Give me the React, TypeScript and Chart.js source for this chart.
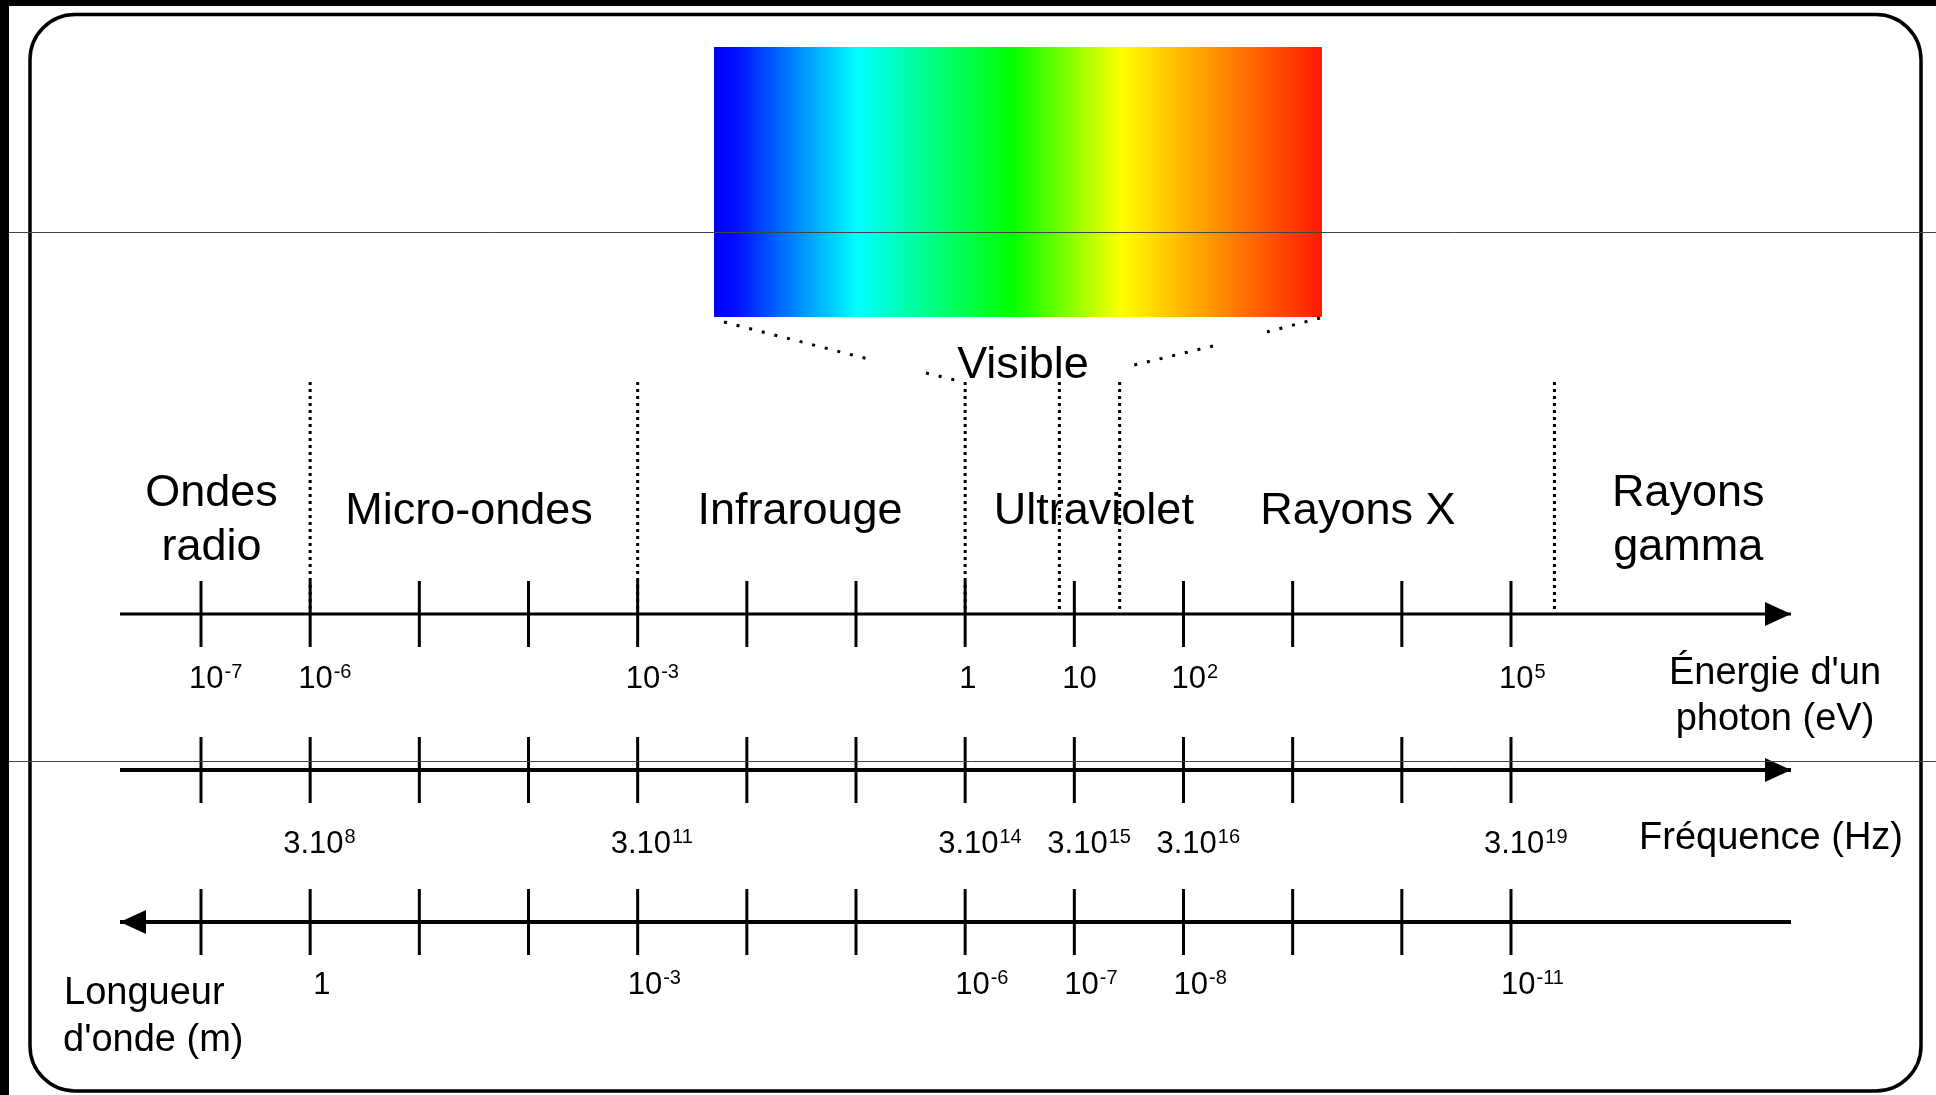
import React, { useEffect, useRef } from 'react';
import { Chart, registerables } from 'chart.js';

Chart.register(...registerables);

// ---- Data ----
// Decade ticks of the shared logarithmic axis, expressed as powers of ten of the photon energy (eV)
const TICK_EXPONENTS = [-7, -6, -5, -4, -3, -2, -1, 0, 1, 2, 3, 4, 5];
// Extent of the drawn axes (powers of ten of eV)
const AXIS_MIN_EXP = -7.742;
const AXIS_MAX_EXP = 7.565;

// Photon energy labels (eV)
const ENERGY_LABEL_EXP = [-7, -6, -3, 0, 1, 2, 5];
const ENERGY_LABEL_BASE = ['10', '10', '10', '1', '10', '10', '10'];
const ENERGY_LABEL_SUP = ['-7', '-6', '-3', '', '', '2', '5'];

// Frequency labels (Hz)
const FREQ_LABEL_EXP = [-6, -3, 0, 1, 2, 5];
const FREQ_LABEL_BASE = ['3.10', '3.10', '3.10', '3.10', '3.10', '3.10'];
const FREQ_LABEL_SUP = ['8', '11', '14', '15', '16', '19'];

// Wavelength labels (m)
const WAVE_LABEL_EXP = [-6, -3, 0, 1, 2, 5];
const WAVE_LABEL_BASE = ['1', '10', '10', '10', '10', '10'];
const WAVE_LABEL_SUP = ['', '-3', '-6', '-7', '-8', '-11'];

// Region boundaries (eV) and region names
const REGION_BOUNDARIES_EV = [1e-6, 1e-3, 1, 7.3, 26, 2.5e5];
const REGION_NAMES = [['Ondes', 'radio'], ['Micro-ondes'], ['Infrarouge'], ['Ultraviolet'], ['Rayons X'], ['Rayons', 'gamma']];
const REGION_LABEL_EV = [1.25e-7, 2.85e-5, 3.07e-2, 15.1, 3.96e3, 4.2e6];

// Visible spectrum colours (blue -> red)
const SPECTRUM_STOPS = [0, 0.03, 0.235, 0.49, 0.67, 0.85, 1];
const SPECTRUM_COLORS = ['#0000ff', '#0008ff', '#00ffff', '#00ff00', '#ffff00', '#ff8000', '#ff1800'];

// ---- Layout ----
const W = 1936;
const H = 1095;
const ROW_ENERGY = 614;
const ROW_FREQ = 770;
const ROW_WAVE = 922;
const FONT = '"Liberation Sans", Arial, sans-serif';

export default function App() {
  const ref = useRef<HTMLCanvasElement>(null);

  useEffect(() => {
    const canvas = ref.current;
    if (!canvas) return;
    const p10 = (e: number) => Math.pow(10, e);
    const xMin = p10(AXIS_MIN_EXP);
    const xMax = p10(AXIS_MAX_EXP);
    const tickValues = TICK_EXPONENTS.map(p10);

    const axisLine = (y: number, width: number) => ({
      type: 'line' as const,
      data: [{ x: xMin, y }, { x: xMax, y }],
      borderColor: '#000',
      borderWidth: width,
      pointRadius: 0,
      borderCapStyle: 'butt' as const,
      clip: false as any,
      tension: 0,
    });
    const tickSet = (y: number) => ({
      type: 'scatter' as const,
      data: tickValues.map((v) => ({ x: v, y })),
      pointStyle: 'line' as const,
      pointRadius: 33,
      pointHoverRadius: 33,
      pointBorderWidth: 3,
      pointHoverBorderWidth: 3,
      pointBorderColor: '#000',
      pointBackgroundColor: '#000',
      pointRotation: 90,
      showLine: false,
      clip: false as any,
    });
    const boundarySets = REGION_BOUNDARIES_EV.map((v) => ({
      type: 'line' as const,
      data: [{ x: v, y: 382 }, { x: v, y: 610 }],
      borderColor: '#000',
      borderWidth: 3,
      borderDash: [3, 4],
      borderCapStyle: 'butt' as const,
      pointRadius: 0,
      clip: false as any,
      tension: 0,
    }));

    const deco = {
      id: 'deco',
      beforeDatasetsDraw(chart: any) {
        const ctx: CanvasRenderingContext2D = chart.ctx;
        const xs = chart.scales.x;
        ctx.save();
        ctx.fillStyle = '#fff';
        ctx.fillRect(0, 0, W, H);
        // outer black edges
        ctx.fillStyle = '#000';
        ctx.fillRect(0, 0, 9, H);
        ctx.fillRect(0, 0, W, 6);
        // rounded frame
        const fx = 30, fy = 14.5, fw = 1891, fh = 1076.5, r = 45;
        ctx.lineWidth = 3.5;
        ctx.strokeStyle = '#000';
        ctx.beginPath();
        ctx.moveTo(fx + r, fy);
        ctx.lineTo(fx + fw - r, fy);
        ctx.arcTo(fx + fw, fy, fx + fw, fy + r, r);
        ctx.lineTo(fx + fw, fy + fh - r);
        ctx.arcTo(fx + fw, fy + fh, fx + fw - r, fy + fh, r);
        ctx.lineTo(fx + r, fy + fh);
        ctx.arcTo(fx, fy + fh, fx, fy + fh - r, r);
        ctx.lineTo(fx, fy + r);
        ctx.arcTo(fx, fy, fx + r, fy, r);
        ctx.closePath();
        ctx.stroke();

        // visible spectrum
        const gx0 = 714, gx1 = 1322, gy0 = 47, gy1 = 317;
        const g = ctx.createLinearGradient(gx0, 0, gx1, 0);
        SPECTRUM_STOPS.forEach((s, i) => g.addColorStop(s, SPECTRUM_COLORS[i]));
        ctx.fillStyle = g;
        ctx.fillRect(gx0, gy0, gx1 - gx0, gy1 - gy0);

        // dotted callout lines
        ctx.strokeStyle = '#000';
        ctx.lineWidth = 3;
        ctx.setLineDash([3, 10]);
        const seg = (a: number, b: number, c: number, d: number) => {
          ctx.beginPath();
          ctx.moveTo(a, b);
          ctx.lineTo(c, d);
          ctx.stroke();
        };
        seg(724, 322, 872, 360);
        seg(926, 373, 955, 380);
        seg(1320, 318, 1267, 332);
        seg(1213, 346, 1126, 367);
        ctx.setLineDash([]);

        const text = (s: string, x: number, y: number, size: number, align: CanvasTextAlign = 'center') => {
          ctx.font = `${size}px ${FONT}`;
          ctx.textAlign = align;
          ctx.textBaseline = 'alphabetic';
          ctx.fillStyle = '#000';
          ctx.fillText(s, x, y);
        };

        text('Visible', 1023, 378, 45);

        // region names
        REGION_NAMES.forEach((lines, i) => {
          const x = xs.getPixelForValue(REGION_LABEL_EV[i]);
          if (lines.length === 1) {
            text(lines[0], x, 524, 45);
          } else {
            text(lines[0], x, 506, 45);
            text(lines[1], x, 560, 45);
          }
        });

        // tick labels
        const tickLabel = (base: string, sup: string, x: number, baseline: number) => {
          ctx.font = `31px ${FONT}`;
          ctx.textAlign = 'left';
          ctx.fillStyle = '#000';
          ctx.fillText(base, x, baseline);
          const w = ctx.measureText(base).width;
          if (sup) {
            ctx.font = `20px ${FONT}`;
            ctx.fillText(sup, x + w + 1, baseline - 10);
          }
        };
        ENERGY_LABEL_EXP.forEach((e, i) => {
          const t = xs.getPixelForValue(p10(e));
          const base = ENERGY_LABEL_BASE[i];
          tickLabel(base, ENERGY_LABEL_SUP[i], base === '1' ? t - 6 : t - 12, 688);
        });
        FREQ_LABEL_EXP.forEach((e, i) => {
          const t = xs.getPixelForValue(p10(e));
          tickLabel(FREQ_LABEL_BASE[i], FREQ_LABEL_SUP[i], t - 27, 853);
        });
        WAVE_LABEL_EXP.forEach((e, i) => {
          const t = xs.getPixelForValue(p10(e));
          const base = WAVE_LABEL_BASE[i];
          tickLabel(base, WAVE_LABEL_SUP[i], base === '1' ? t + 3 : t - 10, 994);
        });

        // axis titles
        text("Énergie d'un", 1775, 684, 38);
        text('photon (eV)', 1775, 730, 38);
        text('Fréquence (Hz)', 1771, 849, 38);
        text('Longueur', 64, 1004, 38, 'left');
        text("d'onde (m)", 63, 1051, 38, 'left');
        ctx.restore();
      },
      afterDatasetsDraw(chart: any) {
        const ctx: CanvasRenderingContext2D = chart.ctx;
        const xs = chart.scales.x;
        const ys = chart.scales.y;
        const left = xs.getPixelForValue(xMin);
        const right = xs.getPixelForValue(xMax);
        ctx.save();
        ctx.fillStyle = '#000';
        const arrow = (tip: number, row: number, dir: number) => {
          const y = ys.getPixelForValue(row);
          ctx.beginPath();
          ctx.moveTo(tip, y);
          ctx.lineTo(tip - dir * 26, y - 12);
          ctx.lineTo(tip - dir * 26, y + 12);
          ctx.closePath();
          ctx.fill();
        };
        arrow(right, ROW_ENERGY, 1);
        arrow(right, ROW_FREQ, 1);
        arrow(left, ROW_WAVE, -1);
        // thin grey guide lines
        ctx.strokeStyle = '#444';
        ctx.lineWidth = 1;
        ctx.beginPath();
        ctx.moveTo(9, 232.5);
        ctx.lineTo(W, 232.5);
        ctx.moveTo(9, 761.5);
        ctx.lineTo(W, 761.5);
        ctx.stroke();
        ctx.restore();
      },
    };

    const chart = new Chart(canvas, {
      type: 'line',
      data: {
        datasets: [
          ...boundarySets,
          axisLine(ROW_ENERGY, 3),
          axisLine(ROW_FREQ, 4),
          axisLine(ROW_WAVE, 4),
          tickSet(ROW_ENERGY),
          tickSet(ROW_FREQ),
          tickSet(ROW_WAVE),
        ] as any,
      },
      options: {
        responsive: false,
        devicePixelRatio: 1,
        animation: false,
        events: [],
        layout: { autoPadding: false, padding: { left: 120, right: W - 1791, top: 0, bottom: 0 } },
        plugins: { legend: { display: false }, tooltip: { enabled: false } },
        scales: {
          x: { type: 'logarithmic', min: xMin, max: xMax, bounds: 'data', display: false },
          y: { type: 'linear', min: 0, max: H, reverse: true, display: false },
        },
      } as any,
      plugins: [deco],
    });
    return () => chart.destroy();
  }, []);

  return (
    <div style={{ position: 'fixed', left: 0, top: 0, width: W, height: H, background: '#fff' }}>
      <canvas ref={ref} width={W} height={H} style={{ display: 'block', width: W, height: H }} />
    </div>
  );
}
